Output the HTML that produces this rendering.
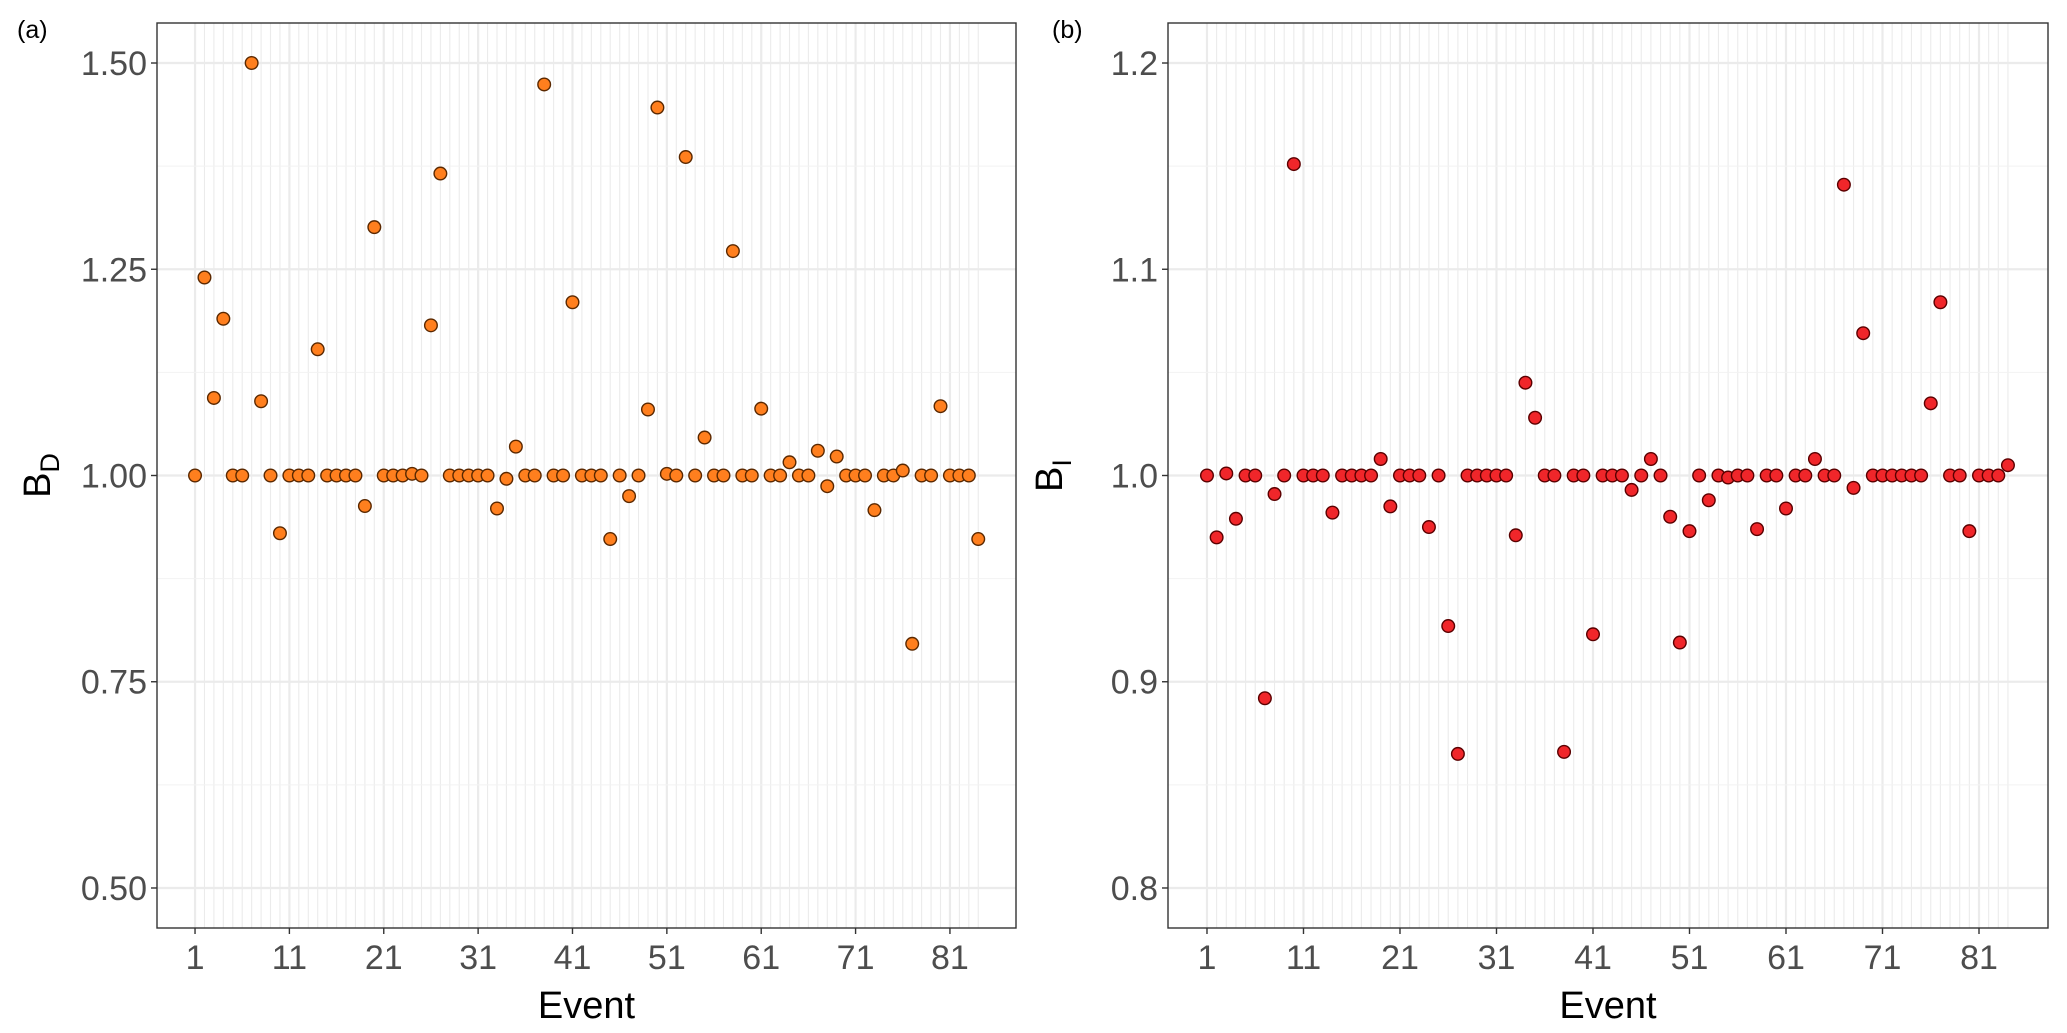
<!DOCTYPE html>
<html><head><meta charset="utf-8"><style>
html,body{margin:0;padding:0;background:#fff;}
svg{display:block;font-family:"Liberation Sans",Arial,sans-serif;}
</style></head><body>
<svg id="chart" width="2067" height="1033" viewBox="0 0 2067 1033" xmlns="http://www.w3.org/2000/svg"></svg>
<script>
const events = Array.from({length:84},(_,i)=>i+1);
const xTicks = [1,11,21,31,41,51,61,71,81];
const bdValues = [1,1.24,1.094,1.19,1,1,1.5,1.09,1,0.93,1,1,1,1.153,1,1,1,1,0.963,1.301,1,1,1,1.002,1,1.182,1.366,1,1,1,1,1,0.96,0.996,1.035,1,1,1.474,1,1,1.21,1,1,1,0.923,1,0.975,1,1.08,1.446,1.002,1,1.386,1,1.046,1,1,1.272,1,1,1.081,1,1,1.016,1,1,1.03,0.987,1.023,1,1,1,0.958,1,1,1.006,0.796,1,1,1.084,1,1,1,0.923];
const biValues = [1,0.970,1.001,0.979,1,1,0.892,0.991,1,1.151,1,1,1,0.982,1,1,1,1,1.008,0.985,1,1,1,0.975,1,0.927,0.865,1,1,1,1,1,0.971,1.045,1.028,1,1,0.866,1,1,0.923,1,1,1,0.993,1,1.008,1,0.980,0.919,0.973,1,0.988,1,0.999,1,1,0.974,1,1,0.984,1,1,1.008,1,1,1.141,0.994,1.069,1,1,1,1,1,1,1.035,1.084,1,1,0.973,1,1,1,1.005];
const bdTicks = [0.5,0.75,1.0,1.25,1.5];
const bdTickLabels = ["0.50","0.75","1.00","1.25","1.50"];
const biTicks = [0.8,0.9,1.0,1.1,1.2];
const biTickLabels = ["0.8","0.9","1.0","1.1","1.2"];

const NS="http://www.w3.org/2000/svg";
const svg=document.getElementById('chart');
function mk(tag,attrs,parent){const e=document.createElementNS(NS,tag);for(const k in attrs)e.setAttribute(k,attrs[k]);(parent||svg).appendChild(e);return e;}

function panel(cfg){
  const g=mk('g',{});
  
  
  const L=cfg.box[0],T=cfg.box[1],R=cfg.box[2],B=cfg.box[3];
  const xs=v=>L+(v-cfg.xd[0])/(cfg.xd[1]-cfg.xd[0])*(R-L);
  const ys=v=>B-(v-cfg.yd[0])/(cfg.yd[1]-cfg.yd[0])*(B-T);
  for(const e of events){
    const major=xTicks.includes(e);
    const l=mk('line',{x1:xs(e),x2:xs(e),y1:T,y2:B,stroke:'#ebebeb','stroke-width':major?2.2:1.1},g);
    
    
  }
  for(let i=0;i<cfg.yt.length;i++){
    const l=mk('line',{x1:L,x2:R,y1:ys(cfg.yt[i]),y2:ys(cfg.yt[i]),stroke:'#ebebeb','stroke-width':2.2},g);
    
    
    if(i<cfg.yt.length-1){
      const m=(cfg.yt[i]+cfg.yt[i+1])/2;
      const l2=mk('line',{x1:L,x2:R,y1:ys(m),y2:ys(m),stroke:'#f2f2f2','stroke-width':1.1},g);
      
      
    }
  }
  for(let i=0;i<events.length;i++){
    const c=mk('circle',{cx:xs(events[i]),cy:ys(cfg.vals[i]),r:6.3,fill:cfg.fill,stroke:cfg.stroke,'stroke-width':1.4},g);
    
    
  }
  const box=mk('rect',{x:L,y:T,width:R-L,height:B-T,fill:'none',stroke:'#333','stroke-width':1.4},g);
  
  
  for(let i=0;i<cfg.yt.length;i++){
    const y=ys(cfg.yt[i]);
    const tk=mk('line',{x1:L-6,x2:L,y1:y,y2:y,stroke:'#333','stroke-width':1.4},g);
    
    
    const t=mk('text',{x:L-10,y:y+12,'text-anchor':'end','font-size':34,fill:'#4d4d4d'},g);
    t.textContent=cfg.ytl[i];
    
    
  }
  for(const v of xTicks){
    const x=xs(v);
    const tk=mk('line',{x1:x,x2:x,y1:B,y2:B+6,stroke:'#333','stroke-width':1.4},g);
    
    
    const t=mk('text',{x:x,y:B+41,'text-anchor':'middle','font-size':34,fill:'#4d4d4d'},g);
    t.textContent=String(v);
    
    
  }
  const xt=mk('text',{x:(L+R)/2,y:1018,'text-anchor':'middle','font-size':38,fill:'#000'},g);
  xt.textContent='Event';
  
  
  const yt=mk('text',{x:0,y:0,'text-anchor':'middle','font-size':38,fill:'#000',transform:`translate(${cfg.ytx},${(T+B)/2}) rotate(-90)`},g);
  yt.textContent='B';
  const sub=mk('tspan',{'font-size':27,dy:9},yt);
  sub.textContent=cfg.sub;
  
  
  const pl=mk('text',{x:cfg.labx,y:38,'font-size':25,fill:'#000'},g);
  pl.textContent=cfg.label;
  
  
}
panel({name:'panel-a',box:[157,23,1016,928],xd:[-3.03,88.0],yd:[0.4515,1.5485],yt:bdTicks,ytl:bdTickLabels,vals:bdValues,fill:'#ff7f1e',stroke:'#5a2800',ytx:50,sub:'D',label:'(a)',labx:17});
panel({name:'panel-b',box:[1168,23,2048,928],xd:[-3.04,88.15],yd:[0.7806,1.2194],yt:biTicks,ytl:biTickLabels,vals:biValues,fill:'#f0262a',stroke:'#5a0000',ytx:1062,sub:'I',label:'(b)',labx:1052});
</script>
</body></html>
